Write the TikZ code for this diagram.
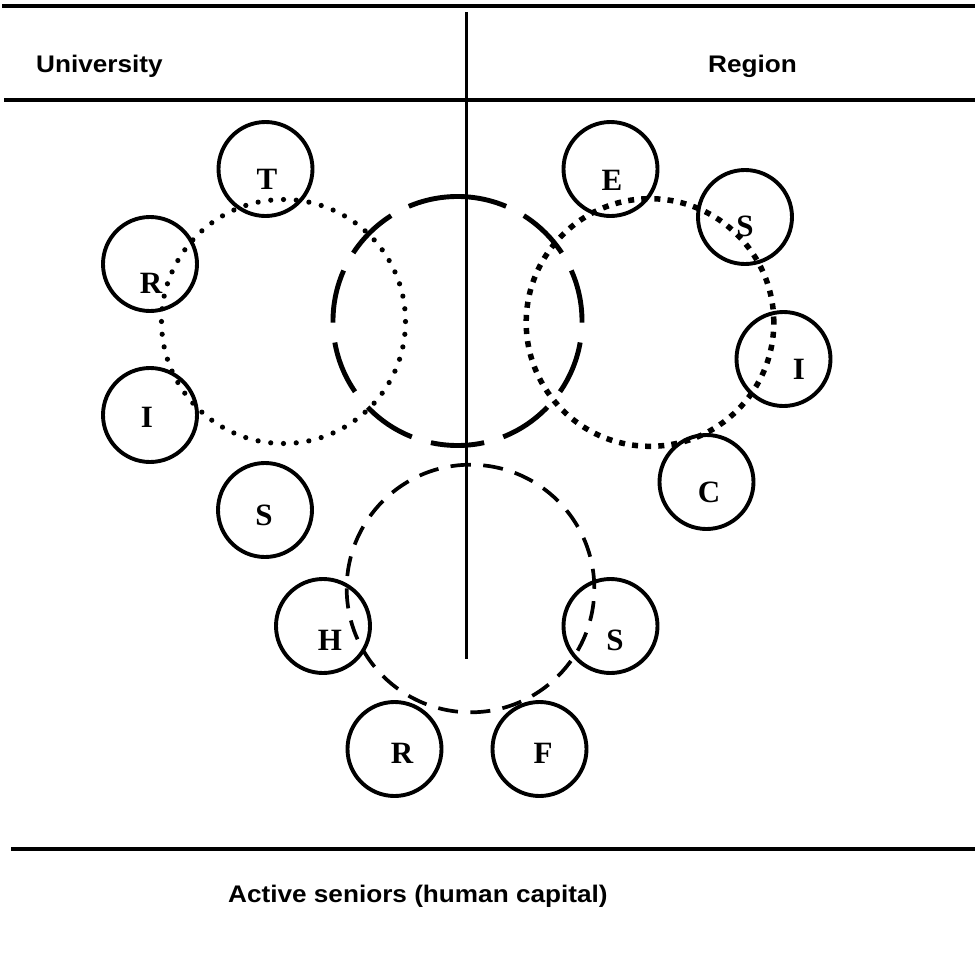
\documentclass[tikz,border=0pt]{standalone}
\usepackage{fontspec}
\setmainfont{Liberation Serif}
\setsansfont{Liberation Sans}
\begin{document}
\begin{tikzpicture}[x=1pt,y=-1pt,
  smallc/.style={draw, circle, line width=3.9pt, minimum size=94pt, inner sep=0pt},
  lab/.style={font=\fontsize{31}{31}\selectfont\bfseries, inner sep=0pt},
  head/.style={font=\fontsize{24}{28}\selectfont\sffamily\bfseries, inner sep=0pt, anchor=base west},
  rulebar/.style={line width=3.2pt},
  vline/.style={line width=2.6pt},
  rounddots/.style={line width=5.2pt, line cap=round, dash pattern=on 0pt off 12.776pt},
  squaredots/.style={line width=5.5pt, dash pattern=on 6pt off 7.15pt},
  longdash/.style={line width=4.9pt, dash pattern=on 53.6pt off 20pt, dash phase=3.6pt},
  shortdash/.style={line width=3.7pt, dash pattern=on 20pt off 12.4pt}]
\useasboundingbox (0,0) rectangle (975,980);

% rules
\coordinate (t1) at (2,6);   \coordinate (t2) at (975,6);
\coordinate (m1) at (4,100); \coordinate (m2) at (975,100);
\coordinate (b1) at (11,849); \coordinate (b2) at (975,849);
\draw[rulebar] (t1) -- (t2);
\draw[rulebar] (m1) -- (m2);
\draw[rulebar] (b1) -- (b2);
\coordinate (vtop) at (466.5,12); \coordinate (vbot) at (466.5,659);
\draw[vline] (vtop) -- (vbot);

% headings
\node[head] (univ) at (36,72.7) {\scalebox{1.09}[1]{University}};
\node[head] (reg) at (708,72.7) {\scalebox{1.09}[1]{Region}};
\node[head] (seniors) at (228,902) {\scalebox{1.09}[1]{Active seniors (human capital)}};

% big circles
\coordinate (cU) at (283.5,321.5);
\coordinate (cM) at (457.5,321);
\coordinate (cR) at (650,322.5);
\coordinate (cB) at (470.5,588.5);
\draw[rounddots] (cU) circle[radius=122pt];
\draw[squaredots] (cR) circle[radius=123.8pt];
\draw[longdash] ([yshift=124.5pt]cM) arc[start angle=90, end angle=450, radius=124.5pt];
\draw[shortdash] ([yshift=123.8pt]cB) arc[start angle=90, end angle=450, radius=123.8pt];

% small circles
\node[smallc] (uT) at (265.5,169) {};
\node[smallc] (uR) at (150,264) {};
\node[smallc] (uI) at (150,415) {};
\node[smallc] (uS) at (265,510) {};
\node[smallc] (rE) at (610.5,169) {};
\node[smallc] (rS) at (745,217) {};
\node[smallc] (rI) at (783.5,359) {};
\node[smallc] (rC) at (706.5,482) {};
\node[smallc] (bH) at (323,626) {};
\node[smallc] (bS) at (610.5,626) {};
\node[smallc] (bR) at (394.5,749) {};
\node[smallc] (bF) at (539.5,749) {};

% labels
\node[lab] (luT) at (267,179) {T};
\node[lab] (luR) at (151,283.5) {R};
\node[lab] (luI) at (147,417.5) {I};
\node[lab] (luS) at (264,515.5) {S};
\node[lab] (lrE) at (612,180) {E};
\node[lab] (lrS) at (745,226) {S};
\node[lab] (lrI) at (799,369) {I};
\node[lab] (lrC) at (709,492.5) {C};
\node[lab] (lbH) at (330,640) {H};
\node[lab] (lbS) at (615,640) {S};
\node[lab] (lbR) at (402,753.7) {R};
\node[lab] (lbF) at (543,753) {F};
\end{tikzpicture}
\end{document}
